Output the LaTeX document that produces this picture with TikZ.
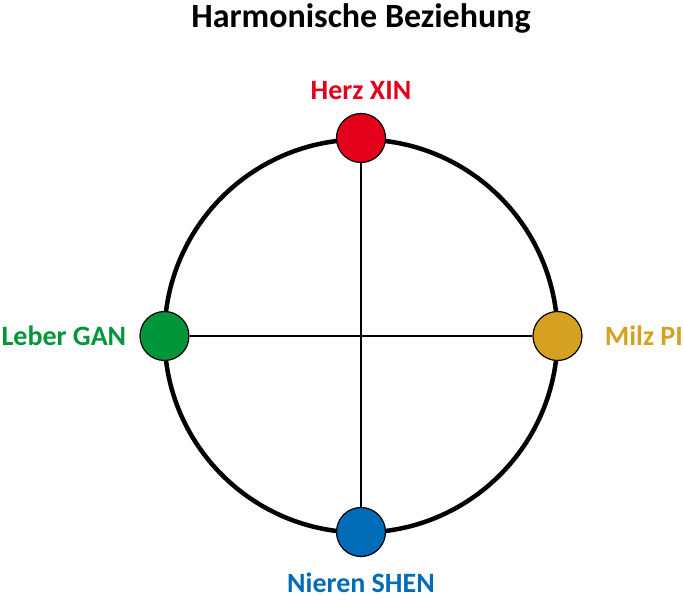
\documentclass[tikz,border=0pt]{standalone}
\usepackage{fontspec}
\setmainfont{Carlito}
\usetikzlibrary{positioning}
\definecolor{herzrot}{RGB}{227,0,27}
\definecolor{lebergruen}{RGB}{0,150,57}
\definecolor{milzgold}{RGB}{214,160,32}
\definecolor{nierenblau}{RGB}{0,107,182}
\tikzstyle{organ} = [circle, draw=black, line width=1.2pt, minimum size=49pt, inner sep=0pt]
\tikzstyle{organtext} = [font=\bfseries\fontsize{28}{32}\selectfont, inner sep=0pt]
\tikzstyle{achse} = [line width=1.6pt]

\begin{document}
\begin{tikzpicture}[x=1pt, y=1pt]
    \useasboundingbox (-361,-266) rectangle (322,336);

    \node (title) at (0,318) [font=\bfseries\fontsize{34}{40}\selectfont] {Harmonische Beziehung};

    \coordinate (mitte) at (0,0);
    \draw [line width=4.5pt] (mitte) circle (196.5);

    \node (herz) [organ, fill=herzrot] at (0,198) {};
    \node (leber) [organ, fill=lebergruen] at (-196.5,0) {};
    \node (milz) [organ, fill=milzgold] at (196.5,0) {};
    \node (niere) [organ, fill=nierenblau] at (0,-196) {};

    \draw [achse] (herz) -- (niere);
    \draw [achse] (leber) -- (milz);

    \node (herz-text) [organtext, text=herzrot, above=13pt of herz] {Herz XIN};
    \node (leber-text) [organtext, text=lebergruen, left=13pt of leber] {Leber GAN};
    \node (milz-text) [organtext, text=milzgold, right=22pt of milz] {Milz PI};
    \node (niere-text) [organtext, text=nierenblau, below=16pt of niere] {Nieren SHEN};

  \end{tikzpicture}
\end{document}
